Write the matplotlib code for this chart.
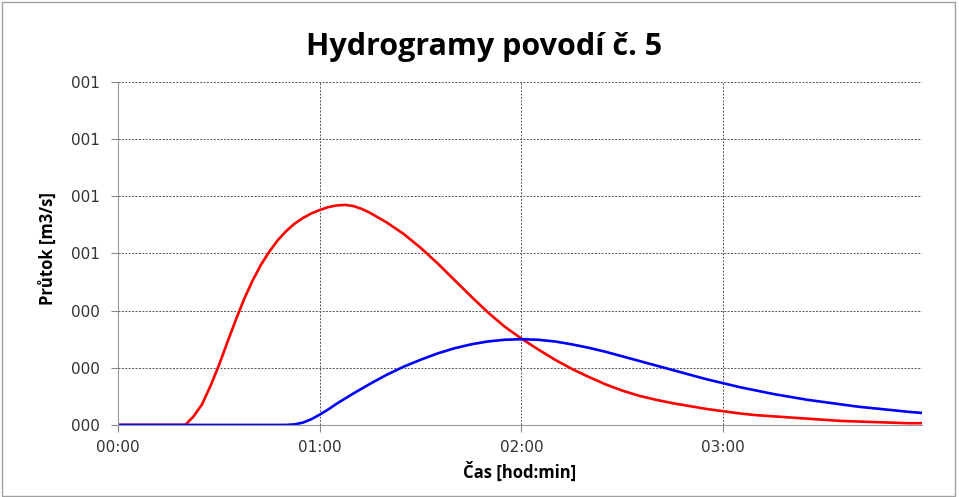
import matplotlib.pyplot as plt
from matplotlib.patches import Rectangle

# time in minutes
time_red = [0, 10, 20, 22.5, 25, 27.5, 30, 32.5, 35, 37.5, 40, 42.5, 45, 47.5, 50, 52.5,
            55, 57.5, 60, 62.5, 65, 67.5, 70, 72.5, 75, 80, 85, 90, 95, 100, 105, 110,
            115, 120, 125, 130, 135, 140, 145, 150, 155, 160, 165, 170, 175, 180, 185,
            190, 195, 200, 205, 210, 215, 220, 225, 230, 235, 239]
flow_red = [0, 0, 0, 0.15, 0.36, 0.68, 1.04, 1.44, 1.83, 2.20, 2.52, 2.80, 3.03, 3.23,
            3.39, 3.52, 3.62, 3.70, 3.76, 3.81, 3.84, 3.85, 3.83, 3.78, 3.71, 3.54, 3.34,
            3.10, 2.83, 2.54, 2.25, 1.97, 1.72, 1.51, 1.32, 1.14, 0.98, 0.84, 0.71, 0.60,
            0.51, 0.44, 0.38, 0.33, 0.28, 0.24, 0.20, 0.17, 0.15, 0.13, 0.11, 0.09, 0.07,
            0.06, 0.05, 0.04, 0.03, 0.03]

time_blue = [0, 20, 40, 50, 52.5, 55, 57.5, 60, 62.5, 65, 67.5, 70, 75, 80, 85, 90, 95,
             100, 105, 110, 115, 120, 125, 130, 135, 140, 145, 150, 155, 160, 165, 170,
             175, 180, 185, 190, 195, 200, 205, 210, 215, 220, 225, 230, 235, 239]
flow_blue = [0, 0, 0, 0, 0.01, 0.04, 0.10, 0.18, 0.27, 0.37, 0.46, 0.55, 0.72, 0.88,
             1.02, 1.14, 1.25, 1.34, 1.41, 1.46, 1.49, 1.50, 1.49, 1.46, 1.41, 1.35, 1.28,
             1.20, 1.12, 1.04, 0.96, 0.88, 0.80, 0.73, 0.66, 0.60, 0.54, 0.49, 0.44, 0.40,
             0.36, 0.32, 0.29, 0.26, 0.23, 0.21]

x_ticks = [0, 60, 120, 180]
x_labels = ["00:00", "01:00", "02:00", "03:00"]
y_ticks = [0, 1, 2, 3, 4, 5, 6]
y_labels = ["000", "000", "000", "001", "001", "001", "001"]

fig = plt.figure(figsize=(9.59, 4.97), dpi=100)
fig.patches.append(Rectangle((0.002, 0.003), 0.994, 0.993, transform=fig.transFigure,
                             fill=False, edgecolor="#a0a0a0", linewidth=1))
ax = fig.add_axes([0.123, 0.145, 0.838, 0.69])

ax.plot(time_red, flow_red, color="#ff0000", linewidth=1.9)
ax.plot(time_blue, flow_blue, color="#0000ff", linewidth=1.9)

ax.set_xlim(0, 239)
ax.set_ylim(0, 6)
ax.set_xticks(x_ticks)
ax.set_xticklabels(x_labels)
ax.set_yticks(y_ticks)
ax.set_yticklabels(y_labels)
ax.tick_params(labelsize=11, colors="#888888", labelcolor="#333333", length=5, width=0.8)
ax.tick_params(axis="x", pad=6)
ax.tick_params(axis="y", pad=8)

ax.grid(True, color="#555555", linestyle=(0, (2, 1.5)), linewidth=0.7)
ax.set_axisbelow(True)
for side in ["top", "right"]:
    ax.spines[side].set_visible(False)
for side in ["left", "bottom"]:
    ax.spines[side].set_color("#999999")
    ax.spines[side].set_linewidth(0.8)

fig.text(0.505, 0.905, "Hydrogramy povodí č. 5", fontsize=22, fontweight="bold",
         family="Open Sans", ha="center", va="center")
fig.text(0.542, 0.05, "Čas [hod:min]", fontsize=12, fontweight="bold",
         family="Open Sans", ha="center", va="center")
fig.text(0.05, 0.5, "Průtok [m3/s]", fontsize=12, fontweight="bold",
         family="Open Sans", ha="center", va="center", rotation=90)

plt.savefig("out.png", dpi=100)
